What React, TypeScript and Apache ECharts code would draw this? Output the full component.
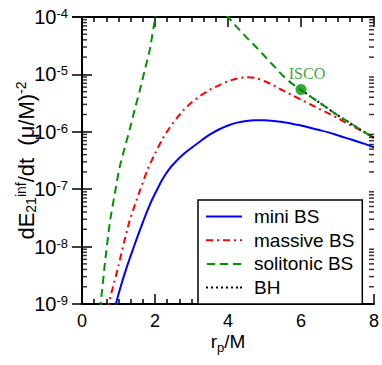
import React, { useEffect, useRef } from "react";
import * as echarts from "echarts";

// r_p/M positions and log10(dE/dt) values
const miniR = [0.9, 0.93, 1.0, 1.1, 1.2, 1.3, 1.4, 1.5, 1.6, 1.7, 1.8, 1.9, 2.0, 2.2, 2.4, 2.6, 2.8, 3.0, 3.25, 3.5, 3.75, 4.0, 4.25, 4.5, 4.75, 5.0, 5.25, 5.5, 5.75, 6.0, 6.25, 6.5, 6.75, 7.0, 7.25, 7.5, 7.75, 8.0];
const miniLog = [-9.1, -9.0, -8.83, -8.61, -8.41, -8.22, -8.04, -7.86, -7.69, -7.52, -7.36, -7.21, -7.08, -6.83, -6.64, -6.5, -6.38, -6.28, -6.16, -6.05, -5.96, -5.89, -5.84, -5.81, -5.8, -5.8, -5.81, -5.83, -5.86, -5.89, -5.93, -5.97, -6.01, -6.06, -6.11, -6.16, -6.21, -6.27];

const massiveR = [0.7, 0.73, 0.85, 1.0, 1.15, 1.3, 1.45, 1.6, 1.8, 2.0, 2.2, 2.4, 2.6, 2.8, 3.0, 3.25, 3.5, 3.75, 4.0, 4.25, 4.5, 4.75, 5.0, 5.25, 5.5, 5.75, 6.0, 6.25, 6.5, 6.75, 7.0, 7.25, 7.5, 7.75, 8.0];
const massiveLog = [-9.1, -9.0, -8.7, -8.33, -7.93, -7.56, -7.27, -7.0, -6.65, -6.38, -6.13, -5.93, -5.76, -5.61, -5.49, -5.37, -5.27, -5.19, -5.12, -5.07, -5.05, -5.06, -5.12, -5.19, -5.28, -5.36, -5.44, -5.52, -5.6, -5.68, -5.76, -5.85, -5.93, -6.01, -6.1];

const solitonInR = [0.49, 0.51, 0.63, 0.76, 0.9, 1.03, 1.17, 1.31, 1.44, 1.58, 1.71, 1.85, 2.01, 2.06];
const solitonInLog = [-9.1, -9.0, -8.28, -7.59, -7.07, -6.62, -6.28, -5.95, -5.62, -5.29, -4.95, -4.59, -4.0, -3.85];

const solitonOutR = [3.95, 4.0, 4.25, 4.5, 4.75, 5.0, 5.25, 5.5, 5.75, 6.0, 6.25, 6.5, 6.75, 7.0, 7.25, 7.5, 7.75, 8.0];
const solitonOutLog = [-3.96, -4.0, -4.18, -4.35, -4.51, -4.68, -4.85, -5.02, -5.16, -5.27, -5.38, -5.49, -5.6, -5.71, -5.81, -5.91, -6.01, -6.11];

const bhR = [6.0, 6.25, 6.5, 6.75, 7.0, 7.25, 7.5, 7.75, 8.0];
const bhLog = [-5.27, -5.38, -5.49, -5.6, -5.71, -5.81, -5.91, -6.01, -6.11];

const iscoR = 6;
const iscoLog = -5.264;

const yDecades = [-9, -8, -7, -6, -5, -4];
const minorMultipliers = [2, 3, 4, 5, 6, 7, 8, 9];
const xMin = 0;
const xMax = 8;

const GREEN = "#009400";
const FONT = "Liberation Sans";

// legend sample shapes (solid, dash-dot, dashed, dotted)
const ICON_SOLID = "path://M0,0h36v2h-36z";
const ICON_DASHDOT = "path://M0,0h7v2h-7z M11,0h2v2h-2z M17,0h7v2h-7z M28,0h2v2h-2z M34,0h2v2h-2z";
const ICON_DASHED = "path://M0,0h8v2h-8z M13,0h8v2h-8z M26,0h8v2h-8z";
const ICON_DOTTED = "path://M0,0h2v2h-2z M5,0h2v2h-2z M10,0h2v2h-2z M15,0h2v2h-2z M20,0h2v2h-2z M25,0h2v2h-2z M30,0h2v2h-2z M34,0h2v2h-2z";

const toPairs = (r: number[], lg: number[]) => r.map((x, i) => [x, Math.pow(10, lg[i])]);

export default function App() {
  const ref = useRef<HTMLDivElement>(null);

  useEffect(() => {
    if (!ref.current) return;
    document.body.style.margin = "0";
    const chart = echarts.init(ref.current, undefined, { renderer: "svg" });

    const minorLeft: number[][] = [];
    const minorRight: number[][] = [];
    for (let k = 0; k < yDecades.length - 1; k++) {
      for (const m of minorMultipliers) {
        const v = m * Math.pow(10, yDecades[k]);
        minorLeft.push([xMin, v]);
        minorRight.push([xMax, v]);
      }
    }

    const tk = () => ({ show: true, inside: true, length: 10, lineStyle: { color: "#000", width: 1.5 } });
    const mtk = () => ({ show: true, splitNumber: 6, length: 5, lineStyle: { color: "#000", width: 1.5 } });

    const minorTickSeries = (data: number[][], offset: number) => ({
      type: "scatter",
      silent: true,
      data,
      symbol: "rect",
      symbolSize: [5, 1.5],
      symbolOffset: [offset, 0],
      itemStyle: { color: "#000" },
      z: 5,
    });

    chart.setOption({
      animation: false,
      backgroundColor: "#fff",
      grid: { left: 82, right: 6, top: 14, bottom: 61, containLabel: false },
      xAxis: [
        {
          type: "value",
          min: xMin,
          max: xMax,
          interval: 2,
          position: "bottom",
          axisLine: { show: true, lineStyle: { color: "#000", width: 2 } },
          axisTick: tk(),
          minorTick: mtk(),
          splitLine: { show: false },
          axisLabel: { fontSize: 18, color: "#000", fontFamily: FONT, margin: 8 },
          name: "{a|r}{s|p}{a|/M}",
          nameLocation: "middle",
          nameGap: 28,
          nameMoveOverlap: false,
          nameTextStyle: {
            rich: {
              a: { fontSize: 19, fontFamily: FONT, color: "#000", lineHeight: 22, verticalAlign: "top" },
              s: { fontSize: 13, fontFamily: FONT, color: "#000", lineHeight: 14, verticalAlign: "bottom", padding: [14, 0, 0, 0] },
            },
          },
        },
        {
          type: "value",
          min: xMin,
          max: xMax,
          interval: 2,
          position: "top",
          axisLine: { show: true, lineStyle: { color: "#000", width: 2 } },
          axisTick: tk(),
          minorTick: mtk(),
          splitLine: { show: false },
          axisLabel: { show: false },
        },
      ],
      yAxis: [
        {
          type: "log",
          logBase: 10,
          min: 1e-9,
          max: 1e-4,
          splitNumber: 5,
          position: "left",
          axisLine: { show: true, lineStyle: { color: "#000", width: 2 } },
          axisTick: tk(),
          splitLine: { show: false },
          axisLabel: {
            margin: 14,
            formatter: (v: number) => `{b|10}{s|${Math.round(Math.log10(v))}}`,
            rich: {
              b: { fontSize: 20, fontFamily: FONT, color: "#000", lineHeight: 20, padding: [7, 0, 0, 0], verticalAlign: "bottom" },
              s: { fontSize: 13, fontFamily: FONT, color: "#000", lineHeight: 13, verticalAlign: "top" },
            },
          },
          name: "{a|dE}{d|21}{u|inf}{a|/dt  (\u03bc/M)}{u|-2}",
          nameLocation: "middle",
          nameRotate: 90,
          nameGap: 44,
          nameMoveOverlap: false,
          nameTextStyle: {
            rich: {
              a: { fontSize: 22, fontFamily: FONT, color: "#000", lineHeight: 24, padding: [6, 0, 6, 0], verticalAlign: "middle" },
              u: { fontSize: 14, fontFamily: FONT, color: "#000", lineHeight: 14, verticalAlign: "top" },
              d: { fontSize: 14, fontFamily: FONT, color: "#000", lineHeight: 14, verticalAlign: "bottom" },
            },
          },
        },
        {
          type: "log",
          logBase: 10,
          min: 1e-9,
          max: 1e-4,
          splitNumber: 5,
          position: "right",
          axisLine: { show: true, lineStyle: { color: "#000", width: 2 } },
          axisTick: tk(),
          splitLine: { show: false },
          axisLabel: { show: false },
        },
      ],
      legend: {
        data: [
          { name: "mini BS", icon: ICON_SOLID },
          { name: "massive BS", icon: ICON_DASHDOT },
          { name: "solitonic BS", icon: ICON_DASHED },
          { name: "BH", icon: ICON_DOTTED },
        ],
        orient: "vertical",
        left: 198,
        top: 200,
        backgroundColor: "#fff",
        borderColor: "#000",
        borderWidth: 1.5,
        borderRadius: 0,
        padding: [7, 8, 7, 8],
        itemGap: 4.7,
        itemWidth: 36,
        itemHeight: 2,
        textStyle: { fontSize: 19, lineHeight: 16, color: "#000", fontFamily: FONT, padding: [0, 0, 0, 7] },
      },
      series: [
        minorTickSeries(minorLeft, 2.5),
        minorTickSeries(minorRight, -2.5),
        {
          type: "line",
          name: "mini BS",
          data: toPairs(miniR, miniLog),
          symbol: "none",
          smooth: 0.2,
          lineStyle: { color: "#0000ff", width: 2 },
          itemStyle: { color: "#0000ff" },
        },
        {
          type: "line",
          name: "massive BS",
          data: toPairs(massiveR, massiveLog),
          symbol: "none",
          smooth: 0.2,
          lineStyle: { color: "#ff0000", width: 2, type: [7, 4, 2, 4] },
          itemStyle: { color: "#ff0000" },
        },
        {
          type: "line",
          name: "BH",
          data: toPairs(bhR, bhLog),
          symbol: "none",
          smooth: 0.2,
          lineStyle: { color: "#000", width: 2, type: [2, 3] },
          itemStyle: { color: "#000" },
        },
        {
          type: "line",
          name: "solitonic BS",
          data: toPairs(solitonInR, solitonInLog),
          symbol: "none",
          smooth: 0.2,
          lineStyle: { color: GREEN, width: 2, type: [8, 5] },
          itemStyle: { color: GREEN },
        },
        {
          type: "line",
          name: "solitonic BS",
          data: toPairs(solitonOutR, solitonOutLog),
          symbol: "none",
          smooth: 0.2,
          lineStyle: { color: GREEN, width: 2, type: [8, 5] },
          itemStyle: { color: GREEN },
        },
        {
          type: "scatter",
          name: "ISCO",
          data: [[iscoR, Math.pow(10, iscoLog)]],
          symbol: "circle",
          symbolSize: 11,
          itemStyle: { color: GREEN },
          z: 6,
          label: {
            show: true,
            formatter: "ISCO",
            position: "top",
            distance: 3,
            offset: [6, 0],
            color: GREEN,
            fontSize: 16,
            fontFamily: "Liberation Serif",
          },
        },
      ],
    });

    return () => chart.dispose();
  }, []);

  return <div ref={ref} style={{ position: "absolute", left: 0, top: 0, width: 382, height: 365 }} />;
}
